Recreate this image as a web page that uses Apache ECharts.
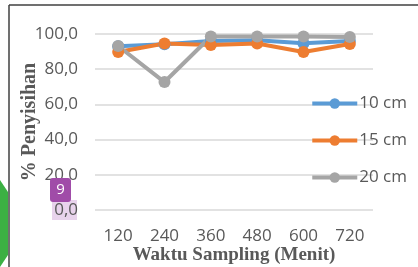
<!DOCTYPE html>
<html>
<head>
<meta charset="utf-8">
<script src="https://cdn.jsdelivr.net/npm/echarts@6/dist/echarts.min.js"></script>
<style>
  html, body { margin: 0; padding: 0; background: #fff; }
  #chart { width: 418px; height: 267px; }
</style>
</head>
<body>
<div id="chart"></div>
<script>
// data
const waktu = ['120', '240', '360', '480', '600', '720'];
const tinggi10 = [93.0, 94.2, 96.0, 96.5, 94.8, 96.0];
const tinggi15 = [89.8, 94.6, 93.8, 94.6, 89.8, 94.3];
const tinggi20 = [93.2, 72.7, 98.6, 98.6, 98.6, 98.3];
const seriesNames = ['10 cm', '15 cm', '20 cm'];
const colors = ['#5b9bd5', '#ed7d31', '#a5a5a5'];

const chart = echarts.init(document.getElementById('chart'));

/**
 * satu seri garis
 */
const lineSeries = (name, data, color) => ({
    name: name,
    type: 'line',
    data: data,
    symbol: 'circle',
    symbolSize: 12,
    itemStyle: { color: color },
    lineStyle: { color: color, width: 4 },
    emphasis: { disabled: true }
});

chart.setOption({
    animation: false,
    color: colors,
    grid: { left: 95, right: 45, top: 34, bottom: 57, outerBoundsMode: 'none', containLabel: false },
    legend: {
        orient: 'vertical',
        right: 6,
        top: 90,
        itemGap: 20,
        itemWidth: 45,
        itemHeight: 13,
        lineStyle: { width: 4 },
        textStyle: { fontFamily: 'Open Sans', fontSize: 17, color: '#595959', padding: [0, 0, 0, -3] },
        data: seriesNames
    },
    xAxis: {
        type: 'category',
        data: waktu,
        name: 'Waktu Sampling (Menit)',
        nameLocation: 'middle',
        nameGap: 36,
        nameMoveOverlap: false,
        nameTextStyle: { fontFamily: 'Liberation Serif', fontWeight: 'bold', fontSize: 19, color: '#595959' },
        axisLine: { show: false },
        axisTick: { show: false },
        axisLabel: { fontFamily: 'Open Sans', fontSize: 17, color: '#595959', margin: 18 }
    },
    yAxis: {
        type: 'value',
        min: 0,
        max: 100,
        interval: 20,
        name: '% Penyisihan',
        nameLocation: 'middle',
        nameGap: 55,
        nameMoveOverlap: false,
        nameTextStyle: { fontFamily: 'Liberation Serif', fontWeight: 'bold', fontSize: 20, color: '#595959' },
        axisLabel: {
            fontFamily: 'Open Sans', fontSize: 17, color: '#595959', margin: 17,
            formatter: v => v.toFixed(1).replace('.', ',')
        },
        splitLine: { lineStyle: { color: '#d9d9d9', width: 1.5 } }
    },
    graphic: [
        // bingkai
        { type: 'line', shape: { x1: 9, y1: 5, x2: 418, y2: 5 }, style: { stroke: '#404040', lineWidth: 1.5 } },
        { type: 'line', shape: { x1: 9, y1: 5, x2: 9, y2: 267 }, style: { stroke: '#404040', lineWidth: 1.5 } },
        // bentuk hijau di kiri
        { type: 'polygon', shape: { points: [[0, 180], [8, 192], [8, 255], [0, 267]] }, style: { fill: '#3cb043' } },
        // kotak ungu muda di belakang 0,0
        { type: 'rect', z: -1, shape: { x: 52, y: 200, width: 25, height: 20 }, style: { fill: '#e8d3ec' } },
        // lencana 9
        { type: 'rect', z: 100, shape: { x: 50, y: 178, width: 21, height: 24, r: 3 }, style: { fill: '#a04ca8' } },
        { type: 'text', z: 101, style: { x: 60.5, y: 190, text: '9', fill: '#fff', fontFamily: 'Open Sans', fontSize: 15, align: 'center', verticalAlign: 'middle' } }
    ],
    series: [
        lineSeries(seriesNames[0], tinggi10, colors[0]),
        lineSeries(seriesNames[1], tinggi15, colors[1]),
        lineSeries(seriesNames[2], tinggi20, colors[2])
    ]
});
</script>
</body>
</html>
